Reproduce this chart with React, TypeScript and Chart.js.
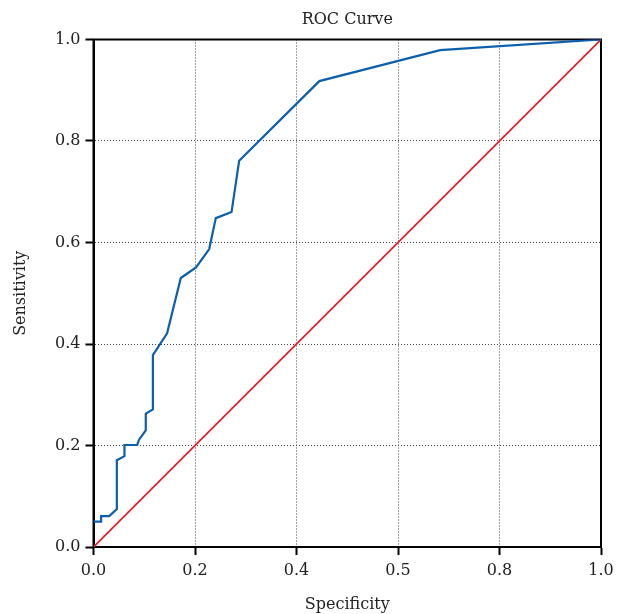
import React, { useEffect, useRef } from "react";
import { Chart, registerables } from "chart.js";

Chart.register(...registerables);

const chartTitle = "ROC Curve";
const xAxisTitle = "Specificity";
const yAxisTitle = "Sensitivity";

const rocX = [0, 0.015, 0.015, 0.031, 0.046, 0.046, 0.061, 0.061, 0.086, 0.09, 0.103, 0.103, 0.117, 0.117, 0.145, 0.172, 0.202, 0.228, 0.241, 0.272, 0.287, 0.445, 0.683, 1.0];
const rocY = [0.05, 0.05, 0.061, 0.061, 0.075, 0.171, 0.179, 0.201, 0.201, 0.212, 0.23, 0.263, 0.271, 0.378, 0.421, 0.53, 0.551, 0.587, 0.648, 0.66, 0.761, 0.918, 0.979, 1.0];

const refX = [0, 1];
const refY = [0, 1];

const xTickLabels = ["0.0", "0.2", "0.4", "0.5", "0.8", "1.0"];
const yTickLabels = ["0.0", "0.2", "0.4", "0.6", "0.8", "1.0"];

const FONT = "'DejaVu Serif', serif";

const framePlugin = {
  id: "frame",
  beforeDatasetsDraw(chart: any) {
    const { ctx, chartArea } = chart;
    ctx.save();
    ctx.strokeStyle = "#000";
    ctx.lineWidth = 2;
    ctx.strokeRect(chartArea.left, chartArea.top, chartArea.right - chartArea.left, chartArea.bottom - chartArea.top);
    ctx.restore();
  },
};

export default function App() {
  const ref = useRef<HTMLCanvasElement>(null);

  useEffect(() => {
    if (!ref.current) return;
    const gridCommon = {
      color: "#444",
      lineWidth: 1,
      tickLength: 8,
      tickColor: "#000",
      tickWidth: 2,
      tickBorderDash: [],
    };
    const chart = new Chart(ref.current, {
      type: "scatter",
      data: {
        datasets: [
          {
            label: "ROC",
            data: rocX.map((x, i) => ({ x, y: rocY[i] })),
            showLine: true,
            borderColor: "#0b5fad",
            backgroundColor: "#0b5fad",
            borderWidth: 2.2,
            pointRadius: 0,
            tension: 0,
            xAxisID: "x",
            yAxisID: "y",
          },
          {
            label: "Reference",
            data: refX.map((x, i) => ({ x, y: refY[i] })),
            showLine: true,
            borderColor: "#e0202a",
            backgroundColor: "#e0202a",
            borderWidth: 1.8,
            pointRadius: 0,
            xAxisID: "x",
            yAxisID: "y",
          },
        ],
      },
      options: {
        responsive: false,
        animation: false,
        layout: { padding: { left: 0, right: 20, top: 0, bottom: 0 } },
        plugins: {
          legend: { display: false },
          tooltip: { enabled: false },
          title: { display: false },
        },
        scales: {
          x: {
            type: "linear",
            position: "bottom",
            min: 0,
            max: 1,
            grid: gridCommon,
            border: { display: true, color: "#000", width: 2, dash: [1, 2] },
            ticks: {
              stepSize: 0.2,
              color: "#222",
              padding: 6,
              font: { family: FONT, size: 16 },
              callback: (v: any, i: number) => xTickLabels[i],
            },
            title: {
              display: true,
              text: xAxisTitle,
              color: "#222",
              font: { family: FONT, size: 16 },
              padding: { top: 0, bottom: 0 },
            },
            afterFit: (s: any) => {
              s.height = 67;
            },
          },
          x2: {
            type: "linear",
            position: "top",
            min: 0,
            max: 1,
            grid: { display: false, drawTicks: false },
            border: { display: false },
            ticks: { display: false },
            title: {
              display: true,
              text: chartTitle,
              color: "#222",
              font: { family: FONT, size: 16 },
              padding: { top: 10, bottom: 0 },
            },
            afterFit: (s: any) => {
              s.height = 39.5;
            },
          },
          y: {
            type: "linear",
            min: 0,
            max: 1,
            grid: gridCommon,
            border: { display: true, color: "#000", width: 2, dash: [1, 2] },
            ticks: {
              stepSize: 0.2,
              color: "#222",
              padding: 5,
              font: { family: FONT, size: 16 },
              callback: (v: any, i: number) => yTickLabels[i],
            },
            title: {
              display: true,
              text: yAxisTitle,
              color: "#222",
              font: { family: FONT, size: 16 },
              padding: { top: 11, bottom: 0 },
            },
            afterFit: (s: any) => {
              s.width = 93.5;
            },
          },
        },
      },
      plugins: [framePlugin],
    });
    return () => chart.destroy();
  }, []);

  return (
    <div style={{ position: "fixed", left: 0, top: 0, width: 621, height: 614 }}>
      <canvas ref={ref} width={621} height={614} />
    </div>
  );
}
